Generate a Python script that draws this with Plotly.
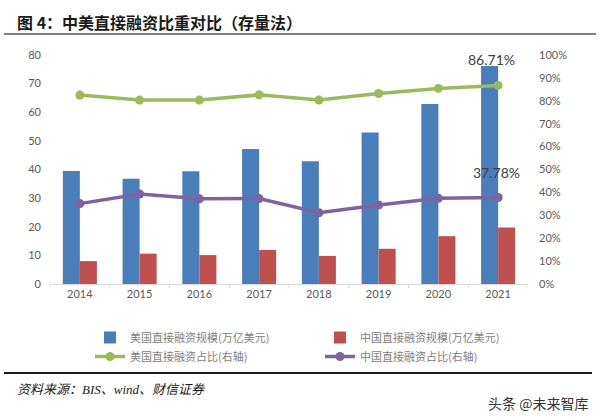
import plotly.graph_objects as go

years = ['2014', '2015', '2016', '2017', '2018', '2019', '2020', '2021']
us_scale = [39.5, 36.8, 39.4, 47.2, 42.9, 52.9, 62.9, 76.2]
cn_scale = [8.0, 10.6, 10.1, 11.9, 9.8, 12.3, 16.7, 19.7]
us_share = [0.825, 0.803, 0.803, 0.826, 0.803, 0.832, 0.854, 0.8671]
cn_share = [0.351, 0.393, 0.372, 0.373, 0.311, 0.345, 0.374, 0.3778]

names = ['美国直接融资规模(万亿美元)', '中国直接融资规模(万亿美元)',
         '美国直接融资占比(右轴)', '中国直接融资占比(右轴)']

W, H = 600, 420
L, R, T, B = 50, 528, 55, 284


def px(x):
    return (x - L) / (R - L)


def py(y):
    return (B - y) / (B - T)


BLUE = '#4A7EBB'
RED = '#C0504D'
GREEN = '#9BBB59'
PURPLE = '#7F62A3'
TICK = '#595959'

xi = list(range(len(years)))

fig = go.Figure()
fig.add_trace(go.Bar(x=xi, y=us_scale, name=names[0], marker_color=BLUE,
                     marker_line_width=0))
fig.add_trace(go.Bar(x=xi, y=cn_scale, name=names[1], marker_color=RED,
                     marker_line_width=0))
fig.add_trace(go.Scatter(x=xi, y=us_share, name=names[2], yaxis='y2',
                         mode='lines+markers',
                         line=dict(color=GREEN, width=3.5),
                         marker=dict(color=GREEN, size=9)))
fig.add_trace(go.Scatter(x=xi, y=cn_share, name=names[3], yaxis='y2',
                         mode='lines+markers',
                         line=dict(color=PURPLE, width=3.5),
                         marker=dict(color=PURPLE, size=9)))

fig.update_layout(
    width=W, height=H,
    margin=dict(l=L, r=W - R, t=T, b=H - B, pad=0),
    paper_bgcolor='white', plot_bgcolor='white',
    barmode='group', bargap=0.43, bargroupgap=0,
    font=dict(family='Lato, "Noto Sans CJK SC", sans-serif', size=11, color=TICK),
    xaxis=dict(range=[-0.5, len(years) - 0.5], tickvals=xi, ticktext=years,
               showgrid=False, showline=True, zeroline=False,
               linecolor='#D9D9D9', linewidth=1, ticks='',
               tickangle=0, tickfont=dict(size=11, color=TICK)),
    yaxis=dict(range=[0, 80], dtick=10, showgrid=False, showline=False,
               zeroline=False, ticks='', ticklabelstandoff=8,
               tickfont=dict(size=11, color=TICK)),
    yaxis2=dict(range=[0, 1], dtick=0.1, tickformat='.0%', overlaying='y',
                side='right', showgrid=False, showline=False, zeroline=False,
                ticks='', ticklabelstandoff=10,
                tickfont=dict(size=11, color=TICK)),
    showlegend=True,
    legend=dict(orientation='h', x=px(90), y=py(323), xanchor='left',
                yanchor='top', entrywidth=185, entrywidthmode='pixels',
                font=dict(family='"Noto Sans CJK SC", sans-serif', size=11,
                          color='#808080'),
                bgcolor='rgba(0,0,0,0)', tracegroupgap=0),
)

# small boundary ticks on the category axis
for k in range(len(years) + 1):
    fig.add_shape(type='line', xref='x', yref='paper', x0=k - 0.5, x1=k - 0.5,
                  y0=0, y1=py(B + 4), line=dict(color='#D9D9D9', width=1))

# data labels
fig.add_annotation(x=xi[-1], y=us_share[-1], yref='y2', text='86.71%',
                   showarrow=False, yshift=26, xshift=-7,
                   font=dict(family='Lato, sans-serif', size=14, color='#404040'))
fig.add_annotation(x=xi[-1], y=cn_share[-1], yref='y2', text='37.78%',
                   showarrow=False, yshift=25, xshift=-2,
                   font=dict(family='Lato, sans-serif', size=14, color='#404040'))

# title
fig.add_annotation(xref='paper', yref='paper', x=px(15), y=py(22),
                   xanchor='left', yanchor='middle', showarrow=False,
                   text='<b>图 4：中美直接融资比重对比（存量法）</b>',
                   font=dict(family='"Noto Sans CJK SC", sans-serif', size=16,
                             color='#1A1A1A'))
# title rule
fig.add_shape(type='line', xref='paper', yref='paper', x0=px(4), x1=px(596),
              y0=py(34), y1=py(34), line=dict(color='#808080', width=2))
# bottom rule
fig.add_shape(type='line', xref='paper', yref='paper', x0=px(4), x1=px(592),
              y0=py(373), y1=py(373), line=dict(color='#1A1A1A', width=2))
# source
fig.add_annotation(xref='paper', yref='paper', x=px(15), y=py(389),
                   xanchor='left', yanchor='middle', showarrow=False,
                   text='<i>资料来源：BIS、wind、财信证券</i>',
                   font=dict(family='"Liberation Serif", "Noto Sans CJK SC", serif',
                             size=13, color='#1A1A1A'))
# watermark
fig.add_annotation(xref='paper', yref='paper', x=px(590), y=py(403),
                   xanchor='right', yanchor='middle', showarrow=False,
                   text='头条 @未来智库',
                   font=dict(family='"Noto Sans CJK SC", sans-serif', size=14,
                             color='#333333'))

fig.write_html('out.html', config={'displayModeBar': False},
               post_script="document.body.style.margin='0';"
                           "document.body.style.padding='0';")
